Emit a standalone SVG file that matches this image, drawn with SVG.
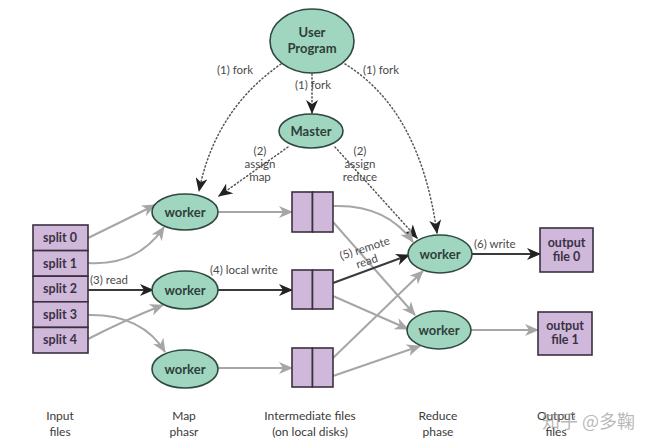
<svg xmlns="http://www.w3.org/2000/svg" width="652" height="443" viewBox="0 0 652 443">
  <style>
    .node { fill: #a0d6c0; stroke: #2e4a40; stroke-width: 1.6; }
    .file { fill: #cfb8d9; stroke: #3a3040; stroke-width: 1.6; }
    .nlabel { font-family: Lato, "Open Sans", sans-serif; font-size: 13px; font-weight: bold; fill: #2f3f3a; text-anchor: middle; }
    .flabel { font-family: Lato, "Open Sans", sans-serif; font-size: 12.5px; font-weight: bold; fill: #3a3145; text-anchor: middle; }
    .elabel { font-family: Lato, "Open Sans", sans-serif; font-size: 11.5px; fill: #4a4a4a; }
    .caption { font-family: Lato, "Open Sans", sans-serif; font-size: 12px; fill: #3a3a3a; text-anchor: middle; }
    .dot { fill: none; stroke: #555; stroke-width: 1.5; stroke-dasharray: 1.2 2.6; stroke-linecap: round; }
    .gray { fill: none; stroke: #a6a6a6; stroke-width: 2; }
    .dark { fill: none; stroke: #3a3a3a; stroke-width: 2; }
  </style>
  <defs>
    <marker id="headDark" markerUnits="userSpaceOnUse" markerWidth="14" markerHeight="12" refX="13" refY="6" orient="auto">
      <path d="M0,0 L14,6 L0,12 L4,6 z" fill="#222"/>
    </marker>
    <marker id="headGray" markerUnits="userSpaceOnUse" markerWidth="14" markerHeight="12" refX="13" refY="6" orient="auto">
      <path d="M0,0 L14,6 L0,12 L4,6 z" fill="#a6a6a6"/>
    </marker>
  </defs>

  <rect width="652" height="443" fill="#ffffff"/>

  <!-- connectors -->
  <g id="connectors">
    <!-- fork and assignment (control) -->
    <path class="dot" d="M281,64 Q215,110 199,191" marker-end="url(#headDark)"/>
    <path class="dot" d="M345,64 Q420,110 437,233" marker-end="url(#headDark)"/>
    <path class="dot" d="M312,74 L312,113" marker-end="url(#headDark)"/>
    <path class="dot" d="M288,147 L219,196" marker-end="url(#headDark)"/>
    <path class="dot" d="M335,147 L417,238" marker-end="url(#headDark)"/>

    <!-- input splits to map workers -->
    <path class="gray" d="M88,238 Q125,220 155,205" marker-end="url(#headGray)"/>
    <path class="gray" d="M88,263 Q138,266 164,227" marker-end="url(#headGray)"/>
    <path class="dark" d="M88,290 L153,290" marker-end="url(#headDark)"/>
    <path class="gray" d="M88,315 Q142,314 165,352" marker-end="url(#headGray)"/>
    <path class="gray" d="M88,339 Q125,320 163,305" marker-end="url(#headGray)"/>

    <!-- map workers to intermediate files -->
    <path class="gray" d="M218,212 L292,212" marker-end="url(#headGray)"/>
    <path class="dark" d="M218,290 L292,290" marker-end="url(#headDark)"/>
    <path class="gray" d="M218,368 L292,368" marker-end="url(#headGray)"/>

    <!-- intermediate files to reduce workers -->
    <path class="gray" d="M333,206 Q386,204 413,242" marker-end="url(#headGray)"/>
    <path class="gray" d="M333,222 L415,315" marker-end="url(#headGray)"/>
    <path class="dark" d="M333,283 L409,255" marker-end="url(#headDark)"/>
    <path class="gray" d="M333,296 L408,329" marker-end="url(#headGray)"/>
    <path class="gray" d="M333,358 L423,271" marker-end="url(#headGray)"/>
    <path class="gray" d="M333,376 L420,346" marker-end="url(#headGray)"/>

    <!-- reduce workers to output files -->
    <path class="dark" d="M472,254 L540,254" marker-end="url(#headDark)"/>
    <path class="gray" d="M471,330 L538,330" marker-end="url(#headGray)"/>

    <!-- connector labels -->
    <text class="elabel" x="217" y="74">(1) fork</text>
    <text class="elabel" x="363" y="74">(1) fork</text>
    <text class="elabel" x="295" y="89">(1) fork</text>
    <text class="elabel" x="260" y="155" text-anchor="middle">(2)</text>
    <text class="elabel" x="260" y="168" text-anchor="middle">assign</text>
    <text class="elabel" x="260" y="181" text-anchor="middle">map</text>
    <text class="elabel" x="360" y="155" text-anchor="middle">(2)</text>
    <text class="elabel" x="360" y="168" text-anchor="middle">assign</text>
    <text class="elabel" x="360" y="181" text-anchor="middle">reduce</text>
    <text class="elabel" x="90" y="284">(3) read</text>
    <text class="elabel" x="210" y="274">(4) local write</text>
    <text class="elabel" x="366" y="252" text-anchor="middle" transform="rotate(-18 366 252)">(5) remote</text>
    <text class="elabel" x="368" y="265" text-anchor="middle" transform="rotate(-18 368 265)">read</text>
    <text class="elabel" x="474" y="248">(6) write</text>
  </g>

  <!-- control nodes -->
  <g id="user-program">
    <ellipse class="node" cx="312" cy="41" rx="42" ry="32"/>
    <text class="nlabel" x="312" y="37" font-size="14">User</text>
    <text class="nlabel" x="312" y="53" font-size="14">Program</text>
  </g>
  <g id="master">
    <ellipse class="node" cx="311" cy="131" rx="32" ry="17"/>
    <text class="nlabel" x="311" y="136">Master</text>
  </g>

  <!-- input splits -->
  <g id="input-splits">
    <rect class="file" x="33" y="225" width="55" height="25.6"/>
    <rect class="file" x="33" y="250.6" width="55" height="25.6"/>
    <rect class="file" x="33" y="276.2" width="55" height="25.6"/>
    <rect class="file" x="33" y="301.8" width="55" height="25.6"/>
    <rect class="file" x="33" y="327.4" width="55" height="25.6"/>
    <text class="flabel" x="60" y="242">split 0</text>
    <text class="flabel" x="60" y="268">split 1</text>
    <text class="flabel" x="60" y="293">split 2</text>
    <text class="flabel" x="60" y="319">split 3</text>
    <text class="flabel" x="60" y="344">split 4</text>
  </g>

  <!-- map workers -->
  <g id="map-worker-0">
    <ellipse class="node" cx="185" cy="212" rx="33" ry="18"/>
    <text class="nlabel" x="185" y="217">worker</text>
  </g>
  <g id="map-worker-1">
    <ellipse class="node" cx="185" cy="290" rx="33" ry="19"/>
    <text class="nlabel" x="185" y="295">worker</text>
  </g>
  <g id="map-worker-2">
    <ellipse class="node" cx="185" cy="369" rx="33" ry="19"/>
    <text class="nlabel" x="185" y="374">worker</text>
  </g>

  <!-- intermediate files -->
  <g id="intermediate-0">
    <rect class="file" x="292" y="192" width="20.5" height="40"/>
    <rect class="file" x="312.5" y="192" width="20.5" height="40"/>
  </g>
  <g id="intermediate-1">
    <rect class="file" x="292" y="270" width="20.5" height="39"/>
    <rect class="file" x="312.5" y="270" width="20.5" height="39"/>
  </g>
  <g id="intermediate-2">
    <rect class="file" x="292" y="348" width="20.5" height="39"/>
    <rect class="file" x="312.5" y="348" width="20.5" height="39"/>
  </g>

  <!-- reduce workers -->
  <g id="reduce-worker-0">
    <ellipse class="node" cx="440" cy="254" rx="32" ry="19"/>
    <text class="nlabel" x="440" y="259">worker</text>
  </g>
  <g id="reduce-worker-1">
    <ellipse class="node" cx="439" cy="330" rx="32" ry="19"/>
    <text class="nlabel" x="439" y="335">worker</text>
  </g>

  <!-- output files -->
  <g id="output-file-0">
    <rect class="file" x="540" y="228" width="53" height="44"/>
    <text class="flabel" x="566.5" y="247">output</text>
    <text class="flabel" x="566.5" y="261">file 0</text>
  </g>
  <g id="output-file-1">
    <rect class="file" x="538" y="312" width="54" height="43"/>
    <text class="flabel" x="565" y="330">output</text>
    <text class="flabel" x="565" y="344">file 1</text>
  </g>

  <!-- column captions -->
  <g id="captions">
    <text class="caption" x="60" y="420">Input</text>
    <text class="caption" x="60" y="436">files</text>
    <text class="caption" x="184" y="420">Map</text>
    <text class="caption" x="184" y="436">phasr</text>
    <text class="caption" x="310" y="420">Intermediate files</text>
    <text class="caption" x="310" y="436">(on local disks)</text>
    <text class="caption" x="438" y="420">Reduce</text>
    <text class="caption" x="438" y="436">phase</text>
    <text class="caption" x="556" y="420">Output</text>
    <text class="caption" x="556" y="436">files</text>
  </g>

  <!-- site watermark -->
  <text x="542" y="428" font-family="'Noto Sans CJK SC', sans-serif" font-size="18" fill="#9a9a9a" fill-opacity="0.7">知乎 @多鞠</text>
</svg>
